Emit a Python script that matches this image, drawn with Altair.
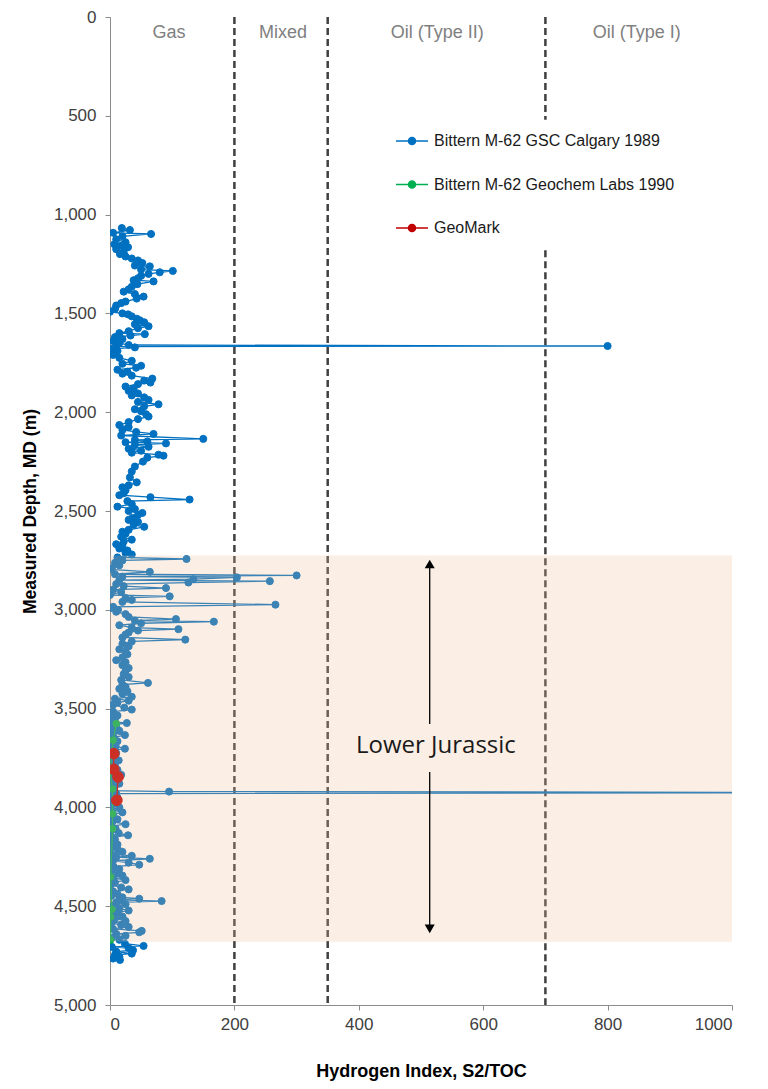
import altair as alt
import pandas as pd

# ---------------- data ----------------
series_names = ["Bittern M-62 GSC Calgary 1989", "Bittern M-62 Geochem Labs 1990", "GeoMark"]
series_colors = ["#0070C0", "#00B050", "#C00000"]

# (depth m, hydrogen index)
gsc_points = [
    (1068, 19), (1078, 32), (1092, 5), (1098, 66), (1110, 20), (1125, 10), (1140, 25), (1150, 7),
    (1158, 18), (1165, 29), (1175, 10), (1190, 22), (1200, 16), (1212, 25), (1222, 35), (1232, 45),
    (1245, 52), (1258, 40), (1262, 64), (1278, 50), (1285, 101), (1292, 80), (1300, 62), (1310, 50),
    (1322, 45), (1332, 38), (1338, 70), (1352, 44), (1365, 35), (1378, 30), (1390, 22), (1402, 40),
    (1415, 54), (1425, 43), (1440, 25), (1448, 18), (1460, 10), (1478, 8), (1492, 0), (1500, 20),
    (1505, 29), (1515, 35), (1527, 43), (1535, 48), (1545, 55), (1555, 40), (1565, 62), (1575, 45),
    (1590, 30), (1600, 15), (1605, 56), (1612, 33), (1620, 8), (1630, 20), (1640, 5), (1650, 15),
    (1660, 30), (1665, 800), (1668, 10), (1672, 40), (1680, 3), (1690, 12), (1700, 8),
    (1710, 5), (1725, 15), (1740, 35), (1755, 20), (1765, 50), (1775, 42), (1785, 12), (1795, 28),
    (1805, 20), (1815, 35), (1830, 68), (1840, 55), (1850, 65), (1858, 45), (1870, 25), (1880, 38),
    (1892, 30), (1905, 45), (1915, 35), (1925, 55), (1938, 62), (1948, 45), (1960, 78), (1970, 55),
    (1985, 40), (1995, 50), (2010, 58), (2022, 62), (2035, 45), (2050, 30), (2065, 15), (2075, 30),
    (2090, 20), (2100, 42), (2110, 70), (2118, 18), (2135, 150), (2140, 40), (2148, 60), (2152, 25),
    (2158, 90), (2165, 40), (2175, 62), (2185, 30), (2195, 50),
    (2205, 35), (2215, 78), (2220, 86), (2230, 60), (2250, 53), (2275, 40), (2300, 35), (2330, 32),
    (2355, 43), (2370, 30), (2380, 20), (2395, 25), (2410, 22), (2420, 15), (2430, 65), (2442, 128),
    (2450, 28), (2465, 35), (2478, 12), (2490, 40), (2500, 30), (2510, 52), (2520, 45), (2535, 36),
    (2545, 30), (2555, 45), (2570, 38), (2580, 55), (2595, 30), (2605, 20), (2615, 25), (2630, 18),
    (2645, 35), (2655, 22), (2668, 10), (2680, 20), (2690, 15), (2700, 28), (2712, 25), (2720, 35),
    (2735, 12), (2743, 123), (2750, 20), (2762, 8), (2775, 15), (2790, 3), (2795, 0), (2808, 64),
    (2820, 8), (2826, 300), (2832, 20), (2836, 204), (2845, 134), (2850, 15), (2855, 257),
    (2862, 126), (2870, 10), (2880, 22), (2890, 90), (2898, 5), (2910, 18), (2925, 0), (2932, 96),
    (2940, 25), (2950, 35), (2960, 20), (2974, 266), (2985, 5), (2993, 0), (3000, 13), (3010, 10),
    (3022, 25), (3036, 30), (3047, 106), (3055, 40), (3060, 167), (3068, 50), (3078, 15), (3090, 35),
    (3098, 110), (3105, 45), (3115, 30), (3125, 25), (3140, 20), (3151, 121), (3160, 35), (3172, 20),
    (3185, 30), (3200, 15), (3212, 25), (3225, 28), (3240, 20), (3255, 10), (3265, 25), (3280, 20),
    (3295, 30), (3310, 25), (3325, 22), (3340, 30), (3355, 18), (3370, 61), (3378, 20), (3390, 25),
    (3400, 15), (3412, 28), (3425, 20), (3440, 35), (3450, 8), (3460, 30), (3470, 12), (3480, 5),
    (3495, 23),
    (3505, 35), (3515, 5), (3525, 2), (3535, 12), (3545, 3), (3555, 8), (3565, 1), (3573, 27),
    (3582, 4), (3592, 10), (3600, 2), (3612, 15), (3622, 3), (3634, 24), (3645, 6), (3655, 1),
    (3665, 12), (3675, 3), (3690, 9), (3703, 24), (3712, 2), (3725, 10), (3738, 4), (3750, 1),
    (3762, 14), (3775, 3), (3788, 8), (3798, 2), (3810, 12), (3822, 4), (3835, 18), (3848, 2),
    (3858, 9), (3870, 3), (3880, 15), (3892, 1), (3905, 6), (3915, 2), (3920, 95), (3925, 1400),
    (3930, 10), (3940, 3), (3950, 12), (3962, 1), (3975, 8), (3988, 2), (4000, 15), (4012, 3),
    (4025, 20), (4035, 5), (4048, 1), (4060, 12), (4072, 4), (4085, 25), (4095, 2), (4108, 9),
    (4120, 1), (4130, 14), (4141, 29), (4150, 3), (4162, 8), (4175, 1), (4188, 12), (4200, 4),
    (4215, 13), (4225, 20), (4235, 2), (4245, 35), (4252, 10), (4260, 64), (4270, 5), (4280, 30),
    (4290, 47), (4300, 6), (4312, 15), (4322, 2), (4335, 13), (4345, 20), (4356, 4), (4368, 25),
    (4380, 8), (4392, 1), (4405, 18), (4415, 30), (4425, 5), (4438, 12), (4448, 2), (4455, 20),
    (4462, 47), (4468, 15), (4474, 83), (4480, 10), (4490, 25), (4500, 3), (4512, 15), (4522, 30),
    (4530, 13), (4540, 3), (4552, 20), (4562, 8), (4575, 25), (4585, 2), (4595, 18), (4605, 30),
    (4615, 5), (4625, 51), (4632, 47), (4640, 10), (4650, 25), (4660, 3), (4670, 15), (4690, 24),
    (4701, 54), (4706, 3), (4712, 30), (4723, 37), (4730, 10), (4740, 35), (4746, 8), (4755, 15),
    (4765, 5), (4772, 16),
]

geochem_depth = [3576, 3660, 3820, 3907, 4032, 4108, 4352, 4516, 4555, 4671]
geochem_hi = [10, 5, 0, 4, 4, 4, 1, 3, 1, 1]

geomark_depth = [3728, 3807, 3846, 3964]
geomark_hi = [6, 6, 13, 11]

zone_names = ["Gas", "Mixed", "Oil (Type II)", "Oil (Type I)"]
zone_label_hi = [95, 278, 526, 847]
zone_label_depth = 80

boundary_hi = [200, 350, 700, 700]
boundary_top = [0, 0, 0, 1180]
boundary_bottom = [5000, 5000, 520, 5000]

jurassic_top, jurassic_bottom = 2725, 4680
arrow_hi = 514
arrow_segments_top = [2768, 3821]
arrow_segments_bottom = [3578, 4615]
label_text = "Lower Jurassic"
label_hi, label_depth = 524, 3690

# ---------------- frames ----------------
rows = []
for i, (d, h) in enumerate(gsc_points):
    rows.append({"series": series_names[0], "depth": d, "hi": h, "idx": i})
for i, (d, h) in enumerate(zip(geochem_depth, geochem_hi)):
    rows.append({"series": series_names[1], "depth": d, "hi": h, "idx": i})
for i, (d, h) in enumerate(zip(geomark_depth, geomark_hi)):
    rows.append({"series": series_names[2], "depth": d, "hi": h, "idx": i})
df = pd.DataFrame(rows)

zones_df = pd.DataFrame({"zone": zone_names, "hi": zone_label_hi, "depth": [zone_label_depth] * 4})
bounds_df = pd.DataFrame({"hi": boundary_hi, "top": boundary_top, "bottom": boundary_bottom})
band_df = pd.DataFrame({"x0": [0], "x1": [1000], "top": [jurassic_top], "bottom": [jurassic_bottom]})
arrow_df = pd.DataFrame({"hi": [arrow_hi] * 2, "top": arrow_segments_top, "bottom": arrow_segments_bottom})
heads_df = pd.DataFrame({"hi": [arrow_hi] * 2, "depth": [arrow_segments_top[0], arrow_segments_bottom[1]],
                         "shape": ["triangle-up", "triangle-down"]})
label_df = pd.DataFrame({"hi": [label_hi], "depth": [label_depth], "text": [label_text]})

# ---------------- encodings ----------------
xscale = alt.Scale(domain=[0, 1000], nice=False, zero=False)
yscale = alt.Scale(domain=[0, 5000], reverse=True, nice=False)
color_scale = alt.Scale(domain=series_names, range=series_colors)

x_axis = alt.Axis(values=[0, 200, 400, 600, 800, 1000], format="d", title="Hydrogen Index, S2/TOC",
                  titlePadding=30, labelPadding=6, titleFontSize=18)
y_axis = alt.Axis(values=list(range(0, 5001, 500)), format=",d", title="Measured Depth, MD (m)",
                  titlePadding=14, labelPadding=9, titleFontSize=17.5)

X = alt.X("hi:Q", scale=xscale, axis=x_axis)
Y = alt.Y("depth:Q", scale=yscale, axis=y_axis)

leg_path = "M-1,0L1,0M0.22,0A0.22,0.22,0,1,1,-0.22,0A0.22,0.22,0,1,1,0.22,0Z"
legend = alt.Legend(title=None, orient="none", legendX=285, legendY=107, symbolType=leg_path,
                    symbolSize=1024, rowPadding=18.5, labelOffset=5, labelFontSize=16,
                    labelFont="Liberation Sans", labelColor="#1a1a1a", padding=0,
                    symbolStrokeWidth=1.5, labelLimit=0)

bounds = alt.Chart(bounds_df).mark_rule(color="#404040", strokeWidth=2.5, strokeDash=[7, 4]).encode(
    x=alt.X("hi:Q", scale=xscale, axis=x_axis),
    y=alt.Y("top:Q", scale=yscale, axis=y_axis),
    y2="bottom:Q",
)

zones = alt.Chart(zones_df).mark_text(font="Liberation Sans", fontSize=18, color="#808080",
                                      baseline="middle").encode(
    x=alt.X("hi:Q", scale=xscale), y=alt.Y("depth:Q", scale=yscale), text="zone:N")

series_layers = []
sizes = [50, 45, 115]
for name, size in zip(series_names, sizes):
    base = alt.Chart(df).transform_filter(alt.datum.series == name)
    line = base.mark_line(strokeWidth=1.3, clip=True).encode(
        x=X, y=Y,
        stroke=alt.Stroke("series:N", scale=color_scale, legend=legend),
        order="idx:Q",
    )
    pts = base.mark_circle(size=size, opacity=1, clip=True, strokeWidth=1).encode(
        x=X, y=Y,
        fill=alt.Fill("series:N", scale=color_scale, legend=legend),
        stroke=alt.Stroke("series:N", scale=color_scale, legend=legend),
    )
    series_layers += [line, pts]

band = alt.Chart(band_df).mark_rect(color="#efbb93", opacity=0.25).encode(
    x=alt.X("x0:Q", scale=xscale), x2="x1:Q",
    y=alt.Y("top:Q", scale=yscale), y2="bottom:Q")

arrow = alt.Chart(arrow_df).mark_rule(color="#000000", strokeWidth=1.3).encode(
    x=alt.X("hi:Q", scale=xscale), y=alt.Y("top:Q", scale=yscale), y2="bottom:Q")

heads = alt.Chart(heads_df).mark_point(filled=True, color="#000000", size=100, opacity=1).encode(
    x=alt.X("hi:Q", scale=xscale), y=alt.Y("depth:Q", scale=yscale),
    shape=alt.Shape("shape:N", scale=None, legend=None))

label = alt.Chart(label_df).mark_text(font="Open Sans", fontSize=24, color="#1a1a1a",
                                      baseline="middle").encode(
    x=alt.X("hi:Q", scale=xscale), y=alt.Y("depth:Q", scale=yscale), text="text:N")

chart = alt.layer(bounds, zones, *series_layers, band, arrow, heads, label).properties(
    width=622, height=988,
    autosize=alt.AutoSizeParams(type="none"),
    padding={"left": 102, "top": 9, "right": 20, "bottom": 76},
).configure_view(stroke=None).configure_axis(
    grid=False, labelFont="Liberation Sans", labelFontSize=17, labelColor="#404040",
    titleFont="Liberation Sans", titleFontSize=16, titleFontWeight="bold", titleColor="#000000",
    domainColor="#8c8c8c", tickColor="#8c8c8c", tickSize=5,
)

chart.save("out.html", embed_options={"renderer": "svg", "actions": False})
